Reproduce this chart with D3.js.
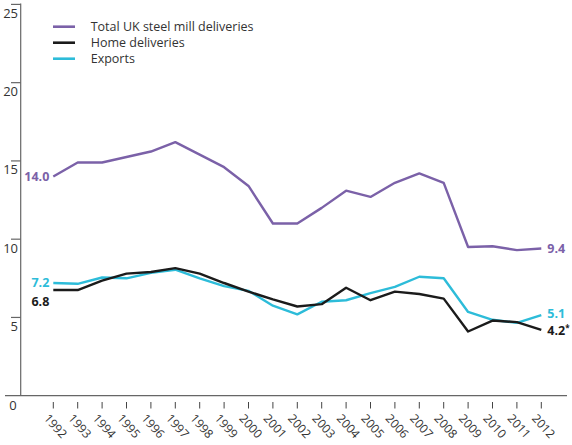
<!DOCTYPE html>
<html>
<head>
<meta charset="utf-8">
<script src="https://cdn.jsdelivr.net/npm/d3@7"></script>
<style>
  body { margin: 0; background: #fff; }
  svg { font-family: "Open Sans", "DejaVu Sans", sans-serif; }
  .legend text { font-size: 12.5px; fill: #333; }
  .vlabel { font-size: 12.5px; font-weight: bold; }
</style>
</head>
<body>
<svg id="chart"></svg>
<script>
const WIDTH = 572, HEIGHT = 445;

const years = d3.range(1992, 2013);
const totalDeliveries = [14.0, 14.9, 14.9, 15.25, 15.6, 16.2, 15.4, 14.6, 13.4, 11.0, 11.0, 12.0, 13.1, 12.7, 13.6, 14.2, 13.6, 9.5, 9.55, 9.3, 9.4];
const homeDeliveries = [6.75, 6.75, 7.35, 7.8, 7.9, 8.15, 7.8, 7.2, 6.65, 6.15, 5.7, 5.85, 6.9, 6.1, 6.65, 6.5, 6.2, 4.1, 4.8, 4.7, 4.2];
const exportsData = [7.2, 7.15, 7.55, 7.5, 7.85, 8.05, 7.5, 7.0, 6.7, 5.75, 5.2, 6.0, 6.1, 6.55, 6.95, 7.6, 7.5, 5.35, 4.85, 4.65, 5.15];
const yTicks = [0, 5, 10, 15, 20, 25];

const series = [
  { name: "Total UK steel mill deliveries", values: totalDeliveries, color: "#7b61a8", start: "14.0", end: "9.4" },
  { name: "Home deliveries", values: homeDeliveries, color: "#1b1b1b", start: "6.8", end: "4.2", note: "*" },
  { name: "Exports", values: exportsData, color: "#2dbcd9", start: "7.2", end: "5.1" }
];

const svg = d3.select("#chart").attr("width", WIDTH).attr("height", HEIGHT);

const x = d3.scaleLinear().domain([1992, 2012]).range([53.3, 541.3]);
const y = d3.scaleLinear().domain([0, 25]).range([395.7, 4.4]);

const AXIS_COLOR = "#666";

// y axis: vertical line plus short ticks to the left, labels sitting below each tick
svg.append("line")
  .attr("x1", 20.7).attr("x2", 20.7)
  .attr("y1", y(25) - 1).attr("y2", y(0))
  .attr("stroke", AXIS_COLOR).attr("stroke-width", 1.2);

const yt = svg.selectAll(".ytick").data(yTicks.filter(d => d > 0)).enter().append("g").attr("class", "ytick");
yt.append("line")
  .attr("x1", 11).attr("x2", 20.7)
  .attr("y1", d => y(d)).attr("y2", d => y(d))
  .attr("stroke", AXIS_COLOR).attr("stroke-width", 1.2);
yt.append("text")
  .attr("x", 18).attr("y", d => y(d) + 13.5)
  .attr("text-anchor", "end")
  .attr("font-size", 13).attr("fill", "#333")
  .text(d => d);

// x axis
svg.append("line")
  .attr("x1", 5).attr("x2", 567)
  .attr("y1", y(0)).attr("y2", y(0))
  .attr("stroke", AXIS_COLOR).attr("stroke-width", 1.2);
svg.append("text")
  .attr("x", 13).attr("y", 410)
  .attr("text-anchor", "middle")
  .attr("font-size", 13).attr("fill", "#333")
  .text("0");

const xt = svg.selectAll(".xtick").data(years).enter().append("g").attr("class", "xtick");
xt.append("line")
  .attr("x1", d => x(d)).attr("x2", d => x(d))
  .attr("y1", 402).attr("y2", 408.5)
  .attr("stroke", "#444").attr("stroke-width", 1);
xt.append("text")
  .attr("transform", d => `translate(${x(d) - 7},${416}) rotate(48)`)
  .attr("font-size", 12).attr("fill", "#333")
  .attr("dy", "0.35em")
  .text(d => d);

// lines
const line = d3.line()
  .x((d, i) => x(years[i]))
  .y(d => y(d));

// draw total first, then exports, then home on top
[series[0], series[2], series[1]].forEach(s => {
  svg.append("path")
    .datum(s.values)
    .attr("fill", "none")
    .attr("stroke", s.color)
    .attr("stroke-width", 2.4)
    .attr("stroke-linejoin", "round")
    .attr("d", line);
});

// start / end value labels
series.forEach(s => {
  const first = s.values[0], last = s.values[s.values.length - 1];
  let sy = y(first), ey = y(last);
  if (s.name === "Home deliveries") { sy += 12; ey += 1; }
  if (s.name === "Exports") ey -= 1.5;
  svg.append("text").attr("class", "vlabel")
    .attr("x", x(1992) - 4).attr("y", sy).attr("dy", "0.35em")
    .attr("text-anchor", "end").attr("fill", s.color)
    .text(s.start);
  const t = svg.append("text").attr("class", "vlabel")
    .attr("x", x(2012) + 6).attr("y", ey).attr("dy", "0.35em")
    .attr("fill", s.color)
    .text(s.end);
  if (s.note) {
    t.append("tspan").attr("font-size", 8).attr("dy", "-0.5em").text(s.note);
  }
});

// legend
const legend = svg.append("g").attr("class", "legend");
const li = legend.selectAll("g").data(series).enter().append("g")
  .attr("transform", (d, i) => `translate(53,${26.7 + i * 16})`);
li.append("line")
  .attr("x1", 0).attr("x2", 22)
  .attr("stroke", d => d.color).attr("stroke-width", 2.6);
li.append("text")
  .attr("x", 37.7).attr("dy", "0.35em")
  .text(d => d.name);
</script>
</body>
</html>
